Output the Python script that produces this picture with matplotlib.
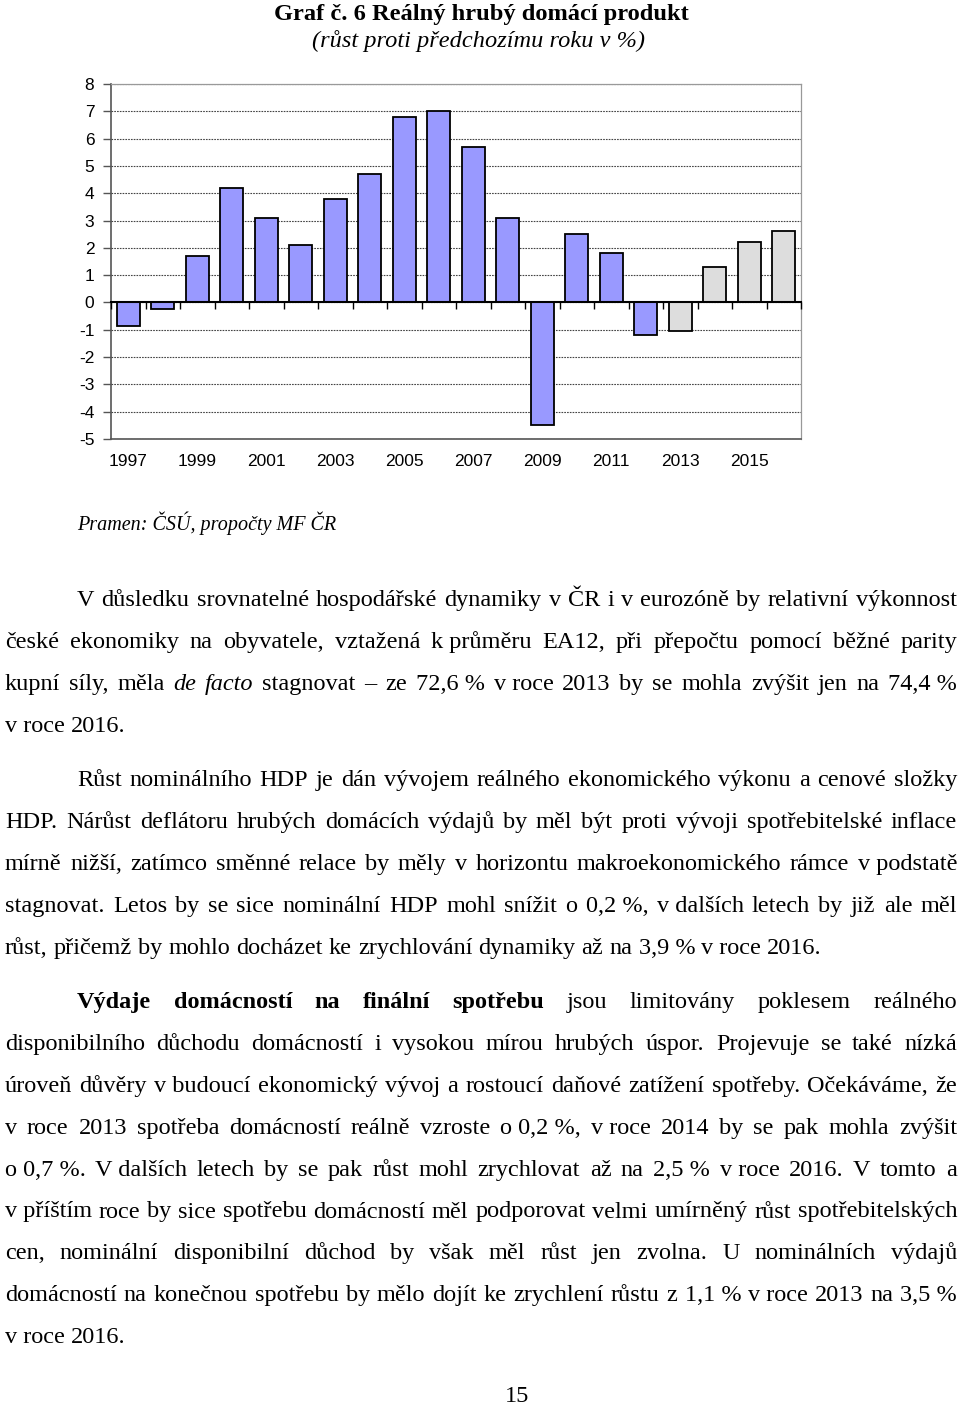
import numpy as np
import matplotlib.pyplot as plt

W, H = 960, 1405

# chart data
years = list(range(1997, 2017))
gdp_growth = [-0.85, -0.25, 1.7, 4.2, 3.1, 2.1, 3.8, 4.7, 6.8, 7.0,
              5.7, 3.1, -4.5, 2.5, 1.8, -1.2, -1.05, 1.3, 2.2, 2.6]
first_forecast_year = 2013
y_ticks = list(range(-5, 9))
x_tick_years = years[::2]

title = "Graf č. 6 Reálný hrubý domácí produkt"
subtitle = "(růst proti předchozímu roku v %)"
source = "Pramen: ČSÚ, propočty MF ČR"
page_number = "15"

# '~' = non-breaking space, _x_ = italic, *x* = bold
para1 = [
    "V důsledku srovnatelné hospodářské dynamiky v ČR i v eurozóně by relativní výkonnost",
    "české ekonomiky na obyvatele, vztažená k~průměru EA12, při přepočtu pomocí běžné parity",
    "kupní síly, měla _de_ _facto_ stagnovat – ze 72,6~% v~roce 2013 by se mohla zvýšit jen na 74,4~%",
    "v~roce 2016.",
]
para2 = [
    "Růst nominálního HDP je dán vývojem reálného ekonomického výkonu a cenové složky",
    "HDP. Nárůst deflátoru hrubých domácích výdajů by měl být proti vývoji spotřebitelské inflace",
    "mírně nižší, zatímco směnné relace by měly v horizontu makroekonomického rámce v~podstatě",
    "stagnovat. Letos by se sice nominální HDP mohl snížit o 0,2~%, v~dalších letech by již ale měl",
    "růst, přičemž by mohlo docházet ke zrychlování dynamiky až na 3,9~% v~roce 2016.",
]
para3 = [
    "*Výdaje* *domácností* *na* *finální* *spotřebu* jsou limitovány poklesem reálného",
    "disponibilního důchodu domácností i vysokou mírou hrubých úspor. Projevuje se také nízká",
    "úroveň důvěry v~budoucí ekonomický vývoj a rostoucí daňové zatížení spotřeby. Očekáváme, že",
    "v roce 2013 spotřeba domácností reálně vzroste o~0,2~%, v~roce 2014 by se pak mohla zvýšit",
    "o~0,7~%. V~dalších letech by se pak růst mohl zrychlovat až na 2,5~% v~roce 2016. V tomto a",
    "v~příštím roce by sice spotřebu domácností měl podporovat velmi umírněný růst spotřebitelských",
    "cen, nominální disponibilní důchod by však měl růst jen zvolna. U nominálních výdajů",
    "domácností na konečnou spotřebu by mělo dojít ke zrychlení růstu z 1,1~% v~roce 2013 na 3,5~%",
    "v~roce 2016.",
]

ACTUAL = '#9999FF'
FORECAST = '#DDDDDD'
SERIF = 'Liberation Serif'
BODY_SIZE = 17.5
LEFT, INDENT, RIGHT = 5, 77, 957
LINE_STEP = 41.9

plt.rcParams['axes.unicode_minus'] = False
plt.rcParams['font.family'] = 'Liberation Sans'

fig = plt.figure(figsize=(W / 100, H / 100), dpi=100)
renderer = fig.canvas.get_renderer()


def fx(x):
    return x / W


def fy(y):
    return 1 - y / H


# ---- chart ----
ax = fig.add_axes([fx(111), fy(439), 690 / W, 355 / H])
xpos = np.arange(len(years))
colors = [ACTUAL if y < first_forecast_year else FORECAST for y in years]
ax.bar(xpos, gdp_growth, width=0.66, color=colors, edgecolor='black',
       linewidth=1.3, zorder=3)
ax.set_xlim(-0.5, len(years) - 0.5)
ax.set_ylim(y_ticks[0], y_ticks[-1])
ax.set_yticks(y_ticks)
ax.set_xticks(xpos[::2])
ax.set_xticklabels([str(y) for y in x_tick_years])
ax.tick_params(axis='x', length=0, pad=11, labelsize=12.5)
ax.tick_params(axis='y', length=6, width=1, color='#555555', pad=6, labelsize=12.5)
ax.grid(axis='y', color='#444444', linewidth=0.8, linestyle=(0, (1.5, 1)), zorder=1)
ax.set_axisbelow(True)
for side in ['top', 'right']:
    ax.spines[side].set_color('#999999')
    ax.spines[side].set_linewidth(0.9)
for side in ['left', 'bottom']:
    ax.spines[side].set_color('#555555')
    ax.spines[side].set_linewidth(1.2)

# category axis through zero with ticks between the bars
zero_loc = (0 - y_ticks[0]) / (y_ticks[-1] - y_ticks[0])
zero_ax = ax.secondary_xaxis(zero_loc)
zero_ax.set_xticks(np.arange(len(years) + 1) - 0.5)
zero_ax.tick_params(axis='x', direction='out', length=5, width=1,
                    labelbottom=False, labeltop=False)
zero_ax.spines['bottom'].set_linewidth(1.5)
zero_ax.spines['bottom'].set_color('black')
zero_ax.set_zorder(5)

# ---- page text ----
fig.text(fx(481), fy(20), title, family=SERIF, weight='bold', fontsize=17.6,
         ha='center', va='baseline')
fig.text(fx(479), fy(47), subtitle, family=SERIF, style='italic', fontsize=17.6,
         ha='center', va='baseline')
fig.text(fx(77), fy(530), source, family=SERIF, style='italic', fontsize=14.5,
         ha='left', va='baseline')
fig.text(fx(517), fy(1401.5), page_number, family=SERIF, fontsize=BODY_SIZE,
         ha='center', va='baseline')

space_w = 0.25 * BODY_SIZE * 100 / 72


def put_line(line, y, x_left, justify):
    words = []
    for tok in line.split(' '):
        weight, style = 'normal', 'normal'
        if tok.startswith('*') and tok.endswith('*'):
            weight, tok = 'bold', tok.strip('*')
        elif tok.startswith('_') and tok.endswith('_'):
            style, tok = 'italic', tok.strip('_')
        t = fig.text(fx(x_left), fy(y), tok.replace('~', ' '), family=SERIF,
                     fontsize=BODY_SIZE, weight=weight, style=style,
                     ha='left', va='baseline')
        words.append(t)
    widths = [t.get_window_extent(renderer).width for t in words]
    if justify and len(words) > 1:
        gap = (RIGHT - x_left - sum(widths)) / (len(words) - 1)
    else:
        gap = space_w
    x = x_left
    for t, w in zip(words, widths):
        t.set_x(fx(x))
        x += w + gap


def put_paragraph(lines, y0):
    for i, line in enumerate(lines):
        x_left = INDENT if i == 0 else LEFT
        put_line(line, y0 + i * LINE_STEP, x_left, i < len(lines) - 1)


put_paragraph(para1, 606)
put_paragraph(para2, 786)
put_paragraph(para3, 1008)

fig.savefig('out.png', dpi=100)
